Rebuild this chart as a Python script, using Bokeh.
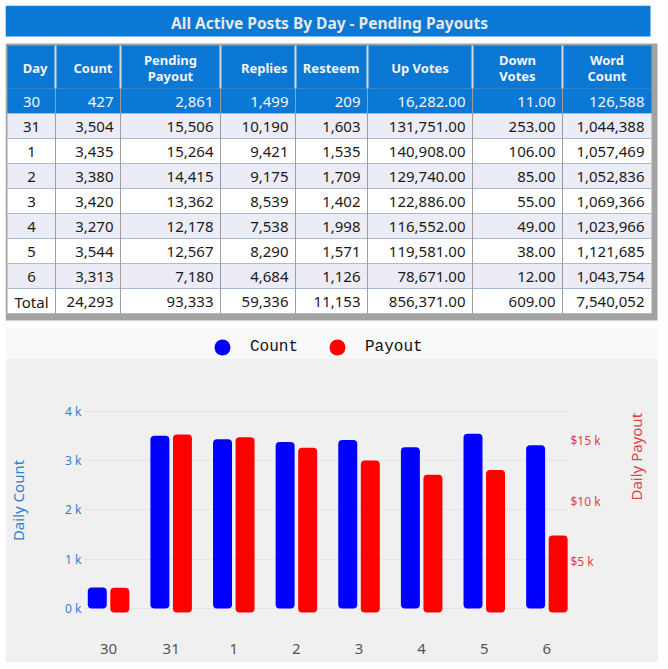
import math
from bokeh.plotting import figure
from bokeh.models import (ColumnDataSource, Range1d, LinearAxis, FixedTicker,
                          CustomJSTickFormatter, Legend, LegendItem)
from bokeh.layouts import column
from bokeh.embed import file_html
from bokeh.resources import INLINE
from bokeh.core.properties import value
from bokeh.transform import dodge

# ---------------- data ----------------
days = ["30", "31", "1", "2", "3", "4", "5", "6"]
count = [427, 3504, 3435, 3380, 3420, 3270, 3544, 3313]
pending_payout = [2861, 15506, 15264, 14415, 13362, 12178, 12567, 7180]
replies = [1499, 10190, 9421, 9175, 8539, 7538, 8290, 4684]
resteem = [209, 1603, 1535, 1709, 1402, 1998, 1571, 1126]
up_votes = [16282, 131751, 140908, 129740, 122886, 116552, 119581, 78671]
down_votes = [11, 253, 106, 85, 55, 49, 38, 12]
word_count = [126588, 1044388, 1057469, 1052836, 1069366, 1023966, 1121685, 1043754]

headers = ["Day", "Count", "Pending\nPayout", "Replies", "Resteem", "Up Votes", "Down\nVotes", "Word\nCount"]
title_text = "All Active Posts By Day - Pending Payouts"
total_label = "Total"
selected_day = "30"
count_ticks = [0, 1000, 2000, 3000, 4000]
payout_ticks = [5000, 10000, 15000]

# ---------------- styles ----------------
BLUE = "#0a78d4"
FONT = "Noto Sans"
W = 653
TOP_H = 322
col_edges = [2, 50, 115, 215, 290, 362, 467, 557, 646]
header_align = ["right", "right", "center", "right", "right", "center", "center", "center"]
HEADER_TOP, HEADER_BOT = 40, 83
ROW_H = 25
PAD = 7

# ---------------- title + table ----------------
top = figure(width=W, height=TOP_H, x_range=Range1d(0, W), y_range=Range1d(TOP_H, 0),
             x_axis_type=None, y_axis_type=None, output_backend="svg", toolbar_location=None,
             min_border=0, outline_line_color=None, frame_align=False,
             background_fill_color="white", border_fill_color="white")

top.quad(left=[0], right=[645], top=[0], bottom=[31], fill_color=BLUE, line_color=None)
top.text(x=[324], y=[17], text=[title_text], text_align="center", text_baseline="middle",
         text_font=value(FONT), text_font_style="bold", text_font_size="15.5px",
         text_color="#e8e8e8")

n_rows = len(days) + 1
table_bottom = HEADER_BOT + ROW_H * n_rows
# frame / shadow
top.quad(left=[col_edges[0] - 2], right=[col_edges[-1] + 6], top=[HEADER_TOP - 2],
         bottom=[table_bottom + 7], fill_color="#a3a3a3", line_color=None)
# header
top.quad(left=[col_edges[0]], right=[col_edges[-1]], top=[HEADER_TOP], bottom=[HEADER_BOT],
         fill_color=BLUE, line_color=None)

# rows backgrounds
row_labels = days + [total_label]
row_fill = []
row_text_color = []
for i, d in enumerate(row_labels):
    if d == selected_day:
        row_fill.append(BLUE)
        row_text_color.append("#f5f5f5")
    elif i % 2 == 1 and i < len(days):
        row_fill.append("#ececf7")
        row_text_color.append("#1a1a1a")
    else:
        row_fill.append("#ffffff")
        row_text_color.append("#1a1a1a")
row_tops = [HEADER_BOT + ROW_H * i for i in range(n_rows)]
top.quad(left=[col_edges[0]] * n_rows, right=[col_edges[-1]] * n_rows,
         top=row_tops, bottom=[t + ROW_H for t in row_tops],
         fill_color=row_fill, line_color=None)

# horizontal row lines
top.segment(x0=[col_edges[0]] * (n_rows), x1=[col_edges[-1]] * (n_rows),
            y0=[t + ROW_H for t in row_tops], y1=[t + ROW_H for t in row_tops],
            line_color="#a9bcd6", line_width=1)
# vertical lines: header (light) and body (gray)
inner = col_edges[1:-1]
top.segment(x0=inner, x1=inner, y0=[HEADER_TOP] * len(inner), y1=[HEADER_BOT] * len(inner),
            line_color="#d8d8d8", line_width=2)
top.segment(x0=inner, x1=inner, y0=[HEADER_BOT] * len(inner), y1=[table_bottom] * len(inner),
            line_color="#9d9d9d", line_width=1)

# header text
hx, hy, ht, ha = [], [], [], []
for j, h in enumerate(headers):
    l, r = col_edges[j], col_edges[j + 1]
    if header_align[j] == "center":
        hx.append((l + r) / 2)
    else:
        hx.append(r - 8)
    hy.append((HEADER_TOP + HEADER_BOT) / 2 + 1)
    ht.append(h)
    ha.append(header_align[j])
top.text(x=hx, y=hy, text=ht, text_align=ha, text_baseline="middle",
         text_font=value(FONT), text_font_style="bold", text_font_size="13px",
         text_color="#f4f4f4", text_line_height=0.9)

# body text
def fi(v):
    return f"{v:,}"

def fd(v):
    return f"{v:,.2f}"

col_values = [
    row_labels,
    [fi(v) for v in count + [sum(count)]],
    [fi(v) for v in pending_payout + [sum(pending_payout)]],
    [fi(v) for v in replies + [sum(replies)]],
    [fi(v) for v in resteem + [sum(resteem)]],
    [fd(v) for v in up_votes + [sum(up_votes)]],
    [fd(v) for v in down_votes + [sum(down_votes)]],
    [fi(v) for v in word_count + [sum(word_count)]],
]
bx, by, bt, ba, bc = [], [], [], [], []
for j, vals in enumerate(col_values):
    l, r = col_edges[j], col_edges[j + 1]
    for i, s in enumerate(vals):
        if j == 0:
            bx.append((l + r) / 2)
            ba.append("center")
        else:
            bx.append(r - PAD)
            ba.append("right")
        by.append(row_tops[i] + ROW_H / 2 + 1)
        bt.append(s)
        bc.append(row_text_color[i])
top.text(x=bx, y=by, text=bt, text_align=ba, text_baseline="middle", text_color=bc,
         text_font=value(FONT), text_font_size="15px")

# ---------------- legend band ----------------
band = figure(width=W, height=31, x_range=Range1d(0, 1), y_range=Range1d(0, 1),
              x_axis_type=None, y_axis_type=None, output_backend="svg", toolbar_location=None,
              min_border=0, outline_line_color=None, frame_align=False,
              background_fill_color="#f9f9f9", border_fill_color="#f9f9f9")
r_cnt = band.scatter(x=[-5], y=[-5], marker="circle", size=16, fill_color="#0000ff", line_color=None)
r_pay = band.scatter(x=[-5], y=[-5], marker="circle", size=16, fill_color="#ff0000", line_color=None)
legend = Legend(items=[LegendItem(label="Count", renderers=[r_cnt]),
                       LegendItem(label="Payout", renderers=[r_pay])],
                orientation="horizontal", location=(197, -9),
                glyph_width=40, glyph_height=40, label_standoff=8, spacing=19,
                padding=0, margin=0, border_line_color=None, background_fill_alpha=0,
                label_text_font="Liberation Mono", label_text_font_size="16px",
                label_text_baseline="alphabetic", label_text_color="#111111")
band.add_layout(legend)

# ---------------- bar chart ----------------
CH_H = 304
chart = figure(width=W, height=CH_H, x_range=Range1d(-0.40, 7.345), y_range=Range1d(-446, 4828),
               output_backend="svg", toolbar_location=None, frame_align=False,
               min_border_left=78, min_border_right=90, min_border_top=12, min_border_bottom=32,
               background_fill_color="#f0f0f0", border_fill_color="#f0f0f0",
               outline_line_color=None)
chart.extra_y_ranges = {"payout": Range1d(-660, 20775)}
PAYOUT_BAR_BASE = 824

src = ColumnDataSource(dict(idx=list(range(len(days))), count=count, payout=pending_payout))
chart.vbar(x=dodge("idx", -0.18), top="count", bottom=0, width=0.303, source=src,
           fill_color="#0000ff", line_color=None, border_radius=4)
chart.vbar(x=dodge("idx", 0.18), top="payout", bottom=PAYOUT_BAR_BASE, width=0.303, source=src,
           y_range_name="payout", fill_color="#ff0000", line_color=None, border_radius=4)

LEFT_C = "#2f80d2"
RIGHT_C = "#e5403f"

xa = chart.xaxis[0]
xa.ticker = FixedTicker(ticks=list(range(len(days))))
xa.major_label_overrides = {i: d for i, d in enumerate(days)}
xa.axis_line_color = None
xa.major_tick_line_color = None
xa.minor_tick_line_color = None
xa.major_tick_out = 0
xa.major_tick_in = 0
xa.major_label_standoff = 13
xa.major_label_text_font = FONT
xa.major_label_text_font_size = "15px"
xa.major_label_text_color = "#555555"

ya = chart.yaxis[0]
ya.ticker = FixedTicker(ticks=count_ticks)
ya.formatter = CustomJSTickFormatter(code="return (tick/1000).toFixed(0) + ' k'")
ya.axis_line_color = None
ya.major_tick_line_color = None
ya.minor_tick_line_color = None
ya.major_tick_out = 0
ya.major_tick_in = 0
ya.major_label_standoff = 2
ya.major_label_text_font = FONT
ya.major_label_text_font_size = "12px"
ya.major_label_text_color = LEFT_C
ya.axis_label = "Daily Count"
ya.axis_label_text_font = FONT
ya.axis_label_text_font_style = "normal"
ya.axis_label_text_font_size = "15px"
ya.axis_label_text_color = LEFT_C
ya.axis_label_standoff = 34

ra = LinearAxis(y_range_name="payout", ticker=FixedTicker(ticks=payout_ticks),
                formatter=CustomJSTickFormatter(code="return '$' + (tick/1000).toFixed(0) + ' k'"))
ra.axis_line_color = None
ra.major_tick_line_color = None
ra.minor_tick_line_color = None
ra.major_tick_out = 0
ra.major_tick_in = 0
ra.major_label_standoff = 2
ra.major_label_text_font = FONT
ra.major_label_text_font_size = "12px"
ra.major_label_text_color = RIGHT_C
ra.axis_label = "Daily Payout"
ra.axis_label_text_font = FONT
ra.axis_label_text_font_style = "normal"
ra.axis_label_text_font_size = "15px"
ra.axis_label_text_color = RIGHT_C
ra.axis_label_standoff = 32
ra.axis_label_orientation = math.pi / 2
chart.add_layout(ra, "right")

chart.xgrid.visible = False
chart.ygrid[0].ticker = FixedTicker(ticks=count_ticks)
chart.ygrid[0].grid_line_color = "#e4e4e4"

layout = column(top, band, chart, spacing=0, margin=(5, 0, 0, 5))
open("out.html", "w").write(file_html(layout, INLINE))
